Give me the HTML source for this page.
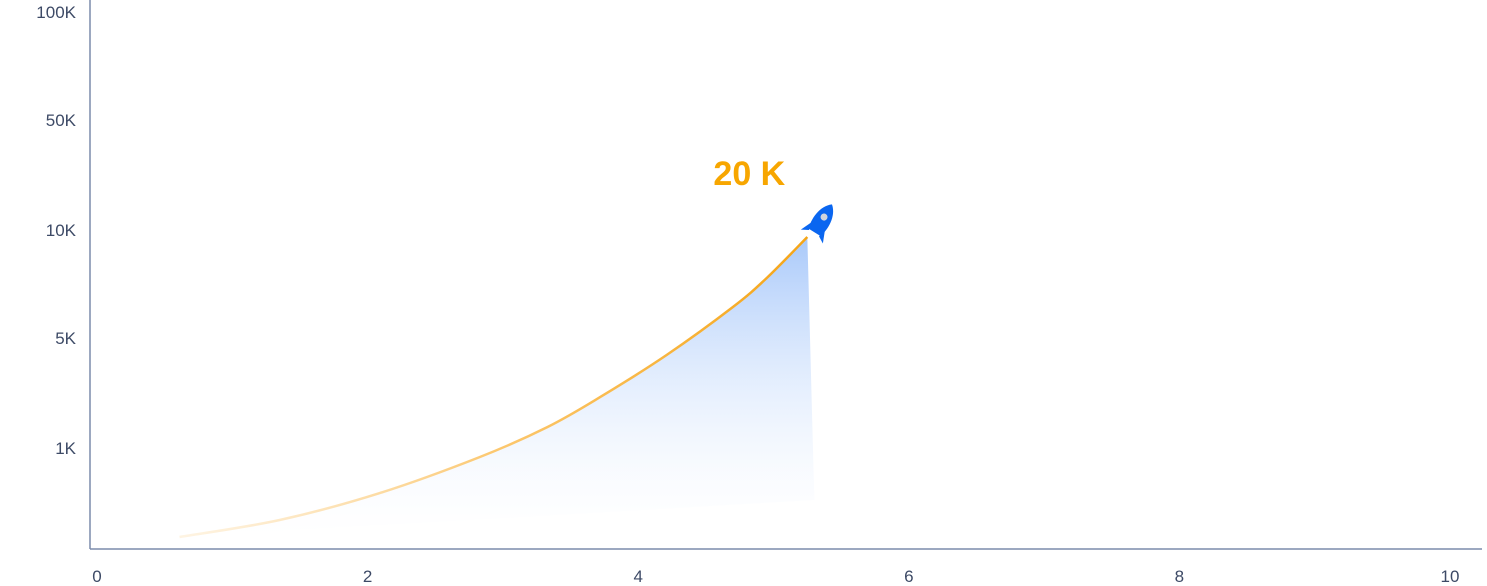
<!DOCTYPE html>
<html><head><meta charset="utf-8"><style>
body{margin:0;background:#fff;font-family:"Liberation Sans",sans-serif}
svg{display:block}
</style></head><body>
<svg id="chart" width="1487" height="586" viewBox="0 0 1487 586">
<defs>
<linearGradient id="fillG" x1="0" y1="0" x2="0" y2="1" gradientUnits="objectBoundingBox">
<stop offset="0" stop-color="#a9c9fa"/><stop offset="1" stop-color="#ffffff" stop-opacity="0.2"/></linearGradient>
<linearGradient id="lineG" x1="180" y1="0" x2="808" y2="0" gradientUnits="userSpaceOnUse">
<stop offset="0" stop-color="#fde3b8" stop-opacity="0.4"/><stop offset="0.5" stop-color="#fcc870"/><stop offset="1" stop-color="#f5a516"/></linearGradient>
</defs>
<g id="plot"></g>
</svg>
<script>
const xTicks=[0,2,4,6,8,10];
const yTickVals=[1000,5000,10000,50000,100000];
const yTickLabels=["1K","5K","10K","50K","100K"];
const xs=[0.61,1.35,2.09,2.83,3.33,3.72,4.21,4.70,4.95,5.25];
const ys=[119,287,554,911,1764,2855,4382,6435,7778,9676];
const peakLabel="20 K";
const ns="http://www.w3.org/2000/svg";
const g=document.getElementById('plot');
const scaleVals=[0,1000,5000,10000,50000,100000];
const scalePx=[549,448,338,230,120,12];
function xS(v){return 97+v*135.3;}
function yS(v){for(let i=0;i<scaleVals.length-1;i++){if(v<=scaleVals[i+1]){const t=(v-scaleVals[i])/(scaleVals[i+1]-scaleVals[i]);return scalePx[i]+t*(scalePx[i+1]-scalePx[i]);}}return scalePx[scalePx.length-1];}
function mk(t,a){const e=document.createElementNS(ns,t);for(const k in a)e.setAttribute(k,a[k]);g.appendChild(e);return e;}
const pts=xs.map((x,i)=>[xS(x),yS(ys[i])]);
let d="M"+pts[0][0]+","+pts[0][1];
for(let i=0;i<pts.length-1;i++){const p0=pts[i-1]||pts[i],p1=pts[i],p2=pts[i+1],p3=pts[i+2]||p2;
d+=" C"+(p1[0]+(p2[0]-p0[0])/6)+","+(p1[1]+(p2[1]-p0[1])/6)+" "+(p2[0]-(p3[0]-p1[0])/6)+","+(p2[1]-(p3[1]-p1[1])/6)+" "+p2[0]+","+p2[1];}
const last=pts[pts.length-1];
const area=mk('path',{d:d+" L"+(last[0]+7)+",500 L"+pts[0][0]+","+pts[0][1]+" Z",fill:"url(#fillG)"});


const line=mk('path',{d:d,fill:"none",stroke:"url(#lineG)","stroke-width":2.5});


const ya=mk('line',{x1:90,y1:0,x2:90,y2:549,stroke:"#7b8bab","stroke-width":1.5});


const xa=mk('line',{x1:90,y1:549,x2:1482,y2:549,stroke:"#7b8bab","stroke-width":1.5});


yTickVals.forEach((v,i)=>{const t=mk('text',{x:76,y:yS(v)+6,"text-anchor":"end","font-size":17,fill:"#3d4a66"});t.textContent=yTickLabels[i];

});
xTicks.forEach(v=>{const t=mk('text',{x:xS(v),y:582,"text-anchor":"middle","font-size":17,fill:"#3d4a66"});t.textContent=v;

});
const lbl=mk('text',{x:last[0]-58,y:185,"text-anchor":"middle","font-size":34,"font-weight":"bold",fill:"#f7a600"});lbl.textContent=peakLabel;


const r=document.createElementNS(ns,'g');
r.setAttribute('transform','translate('+(last[0]+13)+','+(last[1]-14)+') rotate(32)');


r.innerHTML='<path d="M0,-22 C10,-14 10,2 7,11 L-7,11 C-10,2 -10,-14 0,-22 Z" fill="#0a66f0"/><circle cx="0" cy="-7" r="3.5" fill="#d0d4dc"/><path d="M-7,2 L-13,16 L-6,12 Z" fill="#0a66f0"/><path d="M7,2 L13,16 L6,12 Z" fill="#0a66f0"/>';
g.appendChild(r);
</script>
</body></html>
